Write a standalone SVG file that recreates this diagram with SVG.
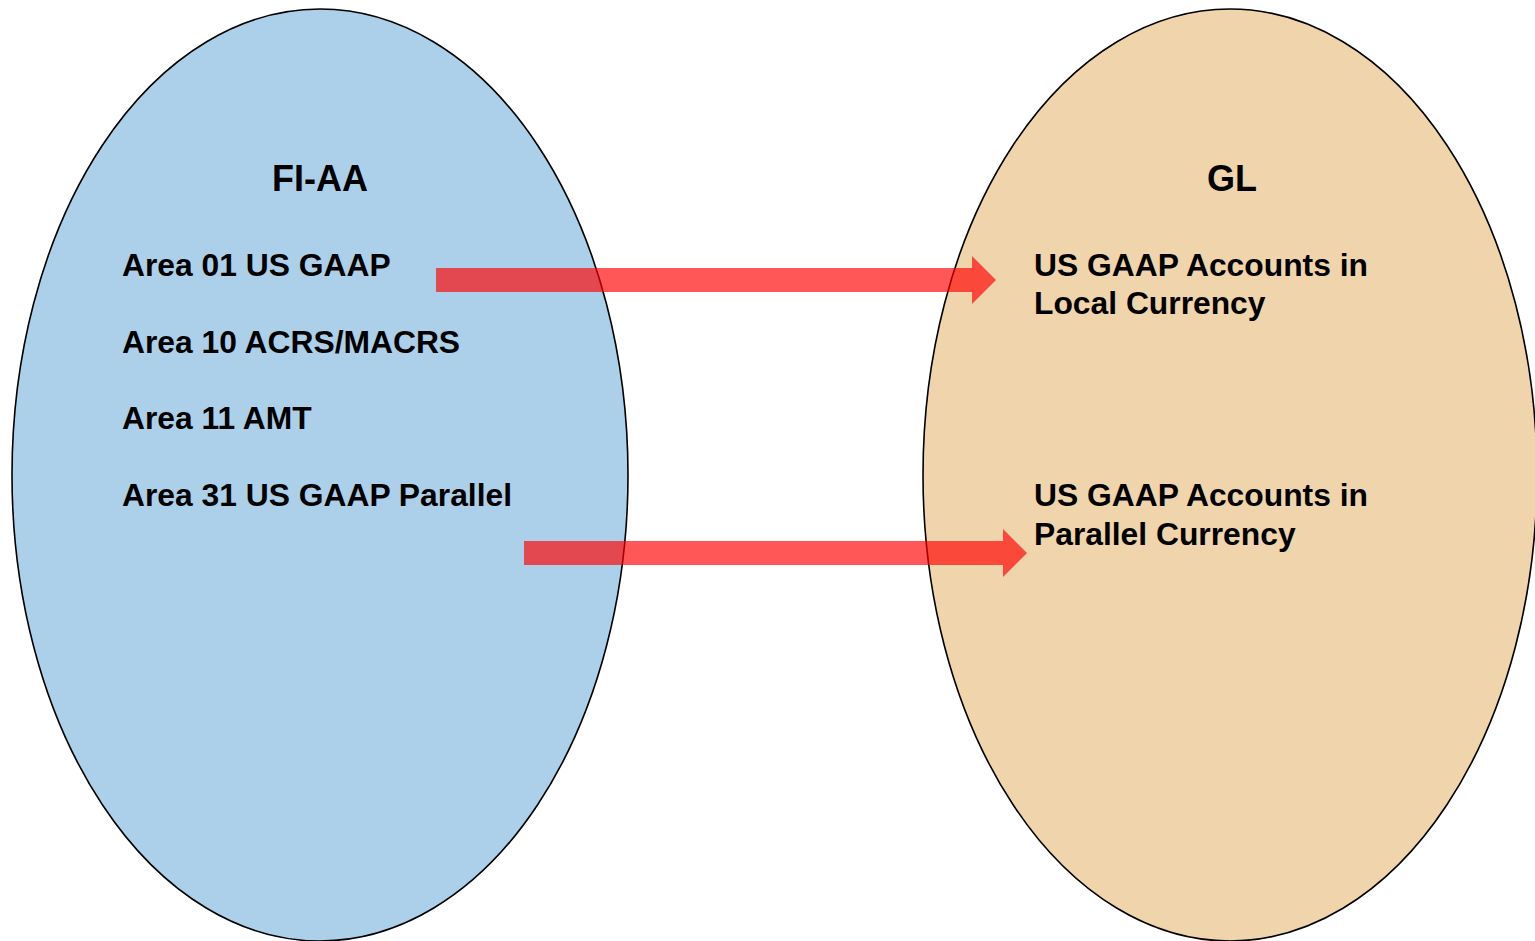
<svg xmlns="http://www.w3.org/2000/svg" width="1535" height="941" viewBox="0 0 1535 941">
  <style>
    .area { stroke: #000; stroke-width: 1.6; }
    .title { font-family: "Liberation Sans", Arial, sans-serif; font-weight: bold; font-size: 36px; fill: #000; text-anchor: middle; }
    .item { font-family: "Liberation Sans", Arial, sans-serif; font-weight: bold; font-size: 31.8px; fill: #000; }
    .flow { fill: #ff0000; fill-opacity: 0.66; }
  </style>
  <rect width="1535" height="941" fill="#fff"/>

  <g id="fi-aa">
    <ellipse class="area" cx="320" cy="475" rx="308" ry="466" fill="#add0ea"/>
    <text class="title" x="320" y="191">FI-AA</text>
    <text class="item" x="122" y="276">Area 01 US GAAP</text>
    <text class="item" x="122" y="353">Area 10 ACRS/MACRS</text>
    <text class="item" x="122" y="429">Area 11 AMT</text>
    <text class="item" x="122" y="506">Area 31 US GAAP Parallel</text>
  </g>

  <g id="gl">
    <ellipse class="area" cx="1230" cy="475" rx="307" ry="466" fill="#f0d4ac"/>
    <text class="title" x="1232" y="191">GL</text>
    <text class="item" x="1034" y="276">US GAAP Accounts in</text>
    <text class="item" x="1034" y="314">Local Currency</text>
    <text class="item" x="1034" y="506">US GAAP Accounts in</text>
    <text class="item" x="1034" y="545">Parallel Currency</text>
  </g>

  <g id="connectors">
    <polygon class="flow" points="436,268 972,268 972,256 996,280 972,304 972,292 436,292"/>
    <polygon class="flow" points="524,541 1003,541 1003,529 1027,553 1003,577 1003,565 524,565"/>
  </g>
</svg>
